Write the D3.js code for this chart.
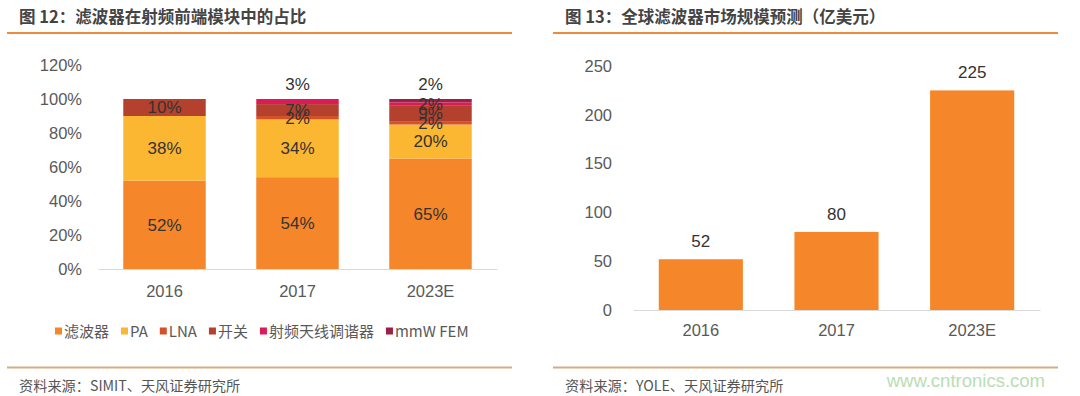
<!DOCTYPE html>
<html><head><meta charset="utf-8">
<script src="https://cdn.jsdelivr.net/npm/d3@7"></script>
<style>
body{margin:0;background:#fff;}
svg{display:block;}
.cn{font-family:"Noto Sans CJK SC","Noto Sans",sans-serif;}
.num{font-family:"Liberation Sans",Arial,sans-serif;}
</style></head>
<body>
<svg id="c" width="1080" height="396"></svg>
<script>
// ---- data ----
const years = ["2016", "2017", "2023E"];
const seriesNames = ["滤波器", "PA", "LNA", "开关", "射频天线调谐器", "mmW FEM"];
const filterShare = [52, 54, 65];
const paShare = [38, 34, 20];
const lnaShare = [0, 2, 2];
const switchShare = [10, 7, 9];
const tunerShare = [0, 3, 2];
const mmwShare = [0, 0, 2];
const pctTicks = [0, 0.2, 0.4, 0.6, 0.8, 1.0, 1.2];
const marketYears = ["2016", "2017", "2023E"];
const marketSize = [52, 80, 225];
const marketTicks = [0, 50, 100, 150, 200, 250];
const colors = ["#F5862A", "#FBB632", "#D4522A", "#B3412D", "#DC1A58", "#9B1F47"];

const svg = d3.select("#c");
svg.append("rect").attr("width",1080).attr("height",396).attr("fill","#fff");

// ---- headers & footers ----
function header(x0, x1, tx, title){
  svg.append("text").attr("class","cn").attr("x",tx).attr("y",22.5)
    .attr("font-size",16.5).attr("font-weight","bold").attr("fill","#444").text(title);
  svg.append("line").attr("x1",x0).attr("x2",x1).attr("y1",33).attr("y2",33)
    .attr("stroke","#EE8A3C").attr("stroke-width",2.2);
}
function footer(x0, x1, tx, src){
  svg.append("line").attr("x1",x0).attr("x2",x1).attr("y1",367.5).attr("y2",367.5)
    .attr("stroke","#D4AE80").attr("stroke-width",2);
  svg.append("text").attr("class","cn").attr("x",tx).attr("y",391)
    .attr("font-size",14.2).attr("fill","#555").text(src);
}
header(7, 512, 19, "图 12：滤波器在射频前端模块中的占比");
header(553, 1058, 565, "图 13：全球滤波器市场规模预测（亿美元）");
footer(7, 512, 19, "资料来源：SIMIT、天风证券研究所");
footer(553, 1058, 565, "资料来源：YOLE、天风证券研究所");
svg.append("text").attr("class","num").attr("x",1045).attr("y",387).attr("text-anchor","end")
  .attr("font-size",18.5).attr("fill","#B9DDB3").text("www.cntronics.com");

// ---- left stacked chart ----
const shares = [filterShare, paShare, lnaShare, switchShare, tunerShare, mmwShare];
const rows = years.map((y,i)=>{
  const r = {year:y};
  seriesNames.forEach((s,j)=> r[s] = shares[j][i]/100);
  return r;
});
const stack = d3.stack().keys(seriesNames)(rows);
const xL = d3.scaleBand().domain(years).range([98,497]).paddingInner(0.38).paddingOuter(0.19);
const yL = d3.scaleLinear().domain([0,1.2]).range([269,65]);

const gL = svg.append("g");
stack.forEach((layer,j)=>{
  gL.selectAll(null).data(layer.filter(d=>d[1]-d[0]>0)).enter().append("rect")
    .attr("x",d=>xL(d.data.year)).attr("width",xL.bandwidth())
    .attr("y",d=>yL(d[1])).attr("height",d=>yL(d[0])-yL(d[1]))
    .attr("fill",colors[j]);
});
// labels
stack.forEach((layer,j)=>{
  layer.forEach((d,i)=>{
    const v = d[1]-d[0];
    if(v<=0) return;
    const isTop = d[1] >= 0.999 && v < 0.05;
    const cy = isTop ? yL(d[1]) - 15 : yL((d[0]+d[1])/2);
    gL.append("text").attr("class","num")
      .attr("x", xL(d.data.year)+xL.bandwidth()/2).attr("y", cy)
      .attr("dy","0.35em").attr("text-anchor","middle")
      .attr("font-size",17).attr("fill","#333")
      .text(Math.round(v*100)+"%");
  });
});
const axL = d3.axisLeft(yL).tickValues(pctTicks).tickFormat(d3.format(".0%")).tickSize(0).tickPadding(0);
const gyL = svg.append("g").attr("transform","translate(82,0)").call(axL);
gyL.select(".domain").remove();
gyL.selectAll("text").attr("class","num").attr("font-size",16.5).attr("fill","#595959");
const axBL = d3.axisBottom(xL).tickSize(0).tickPadding(16);
const gxL = svg.append("g").attr("transform","translate(0,269)").call(axBL);
gxL.select(".domain").attr("stroke","#D9D9D9").attr("stroke-width",1.2);
gxL.selectAll("text").attr("class","num").attr("font-size",16.5).attr("fill","#595959");

// legend
const lg = svg.append("g");
let lx = 55;
seriesNames.forEach((s,j)=>{
  lg.append("rect").attr("x",lx).attr("y",327.5).attr("width",7).attr("height",7).attr("fill",colors[j]);
  const t = lg.append("text").attr("class","cn").attr("x",lx+9).attr("y",336.5)
    .attr("font-size",15).attr("fill","#595959").text(s);
  lx += 9 + t.node().getComputedTextLength() + 12;
});

// ---- right bar chart ----
const xR = d3.scaleBand().domain(marketYears).range([633,1040]).paddingInner(0.38).paddingOuter(0.19);
const yR = d3.scaleLinear().domain([0,250]).range([310,66]);
const gR = svg.append("g");
gR.selectAll(null).data(marketSize).enter().append("rect")
  .attr("x",(d,i)=>xR(marketYears[i])).attr("width",xR.bandwidth())
  .attr("y",d=>yR(d)).attr("height",d=>yR(0)-yR(d)).attr("fill",colors[0]);
gR.selectAll(null).data(marketSize).enter().append("text").attr("class","num")
  .attr("x",(d,i)=>xR(marketYears[i])+xR.bandwidth()/2).attr("y",d=>yR(d)-12)
  .attr("text-anchor","middle").attr("font-size",17).attr("fill","#333").text(d=>d);
const axR = d3.axisLeft(yR).tickValues(marketTicks).tickSize(0).tickPadding(0);
const gyR = svg.append("g").attr("transform","translate(612,0)").call(axR);
gyR.select(".domain").remove();
gyR.selectAll("text").attr("class","num").attr("font-size",16.5).attr("fill","#595959");
const axBR = d3.axisBottom(xR).tickSize(0).tickPadding(14);
const gxR = svg.append("g").attr("transform","translate(0,310)").call(axBR);
gxR.select(".domain").attr("stroke","#D9D9D9").attr("stroke-width",1.2);
gxR.selectAll("text").attr("class","num").attr("font-size",16.5).attr("fill","#595959");
</script>
</body></html>
